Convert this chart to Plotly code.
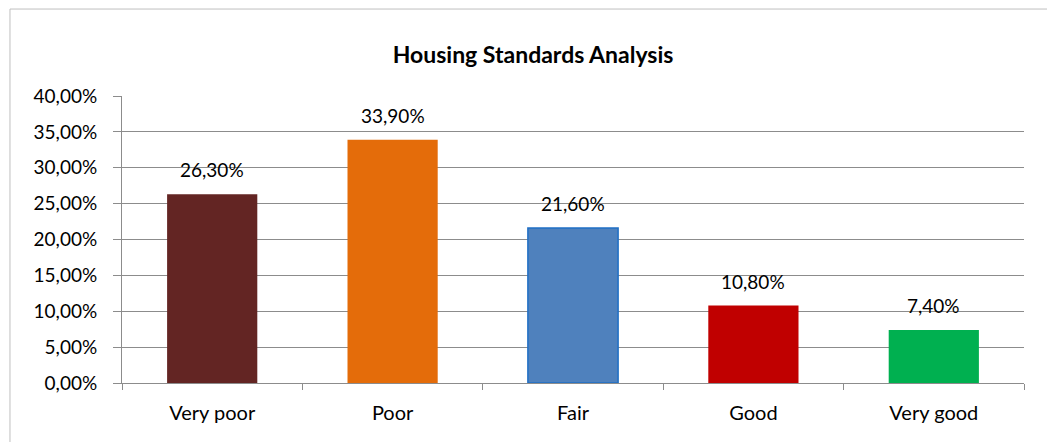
import plotly.graph_objects as go

categories = ["Very poor", "Poor", "Fair", "Good", "Very good"]
values = [0.263, 0.339, 0.216, 0.108, 0.074]
colors = ["#632523", "#E46C0A", "#4F81BD", "#C00000", "#00B050"]
line_colors = ["#632523", "#E46C0A", "#1F6FC5", "#C00000", "#00B050"]
title = "Housing Standards Analysis"

FONT = "Lato, 'Liberation Sans', sans-serif"

fig = go.Figure()
fig.add_trace(go.Bar(
    x=categories, y=values,
    marker=dict(color=colors, line=dict(color=line_colors, width=[0, 0, 1.5, 0, 0])),
    hoverinfo="skip",
))

def fmt(v):
    return f"{v*100:.2f}%".replace(".", ",")

for c, v in zip(categories, values):
    fig.add_annotation(x=c, y=v, text=fmt(v), showarrow=False, yanchor="bottom",
                       yshift=11, font=dict(family=FONT, size=19, color="#000000"))

fig.add_shape(type="rect", xref="paper", yref="paper",
              x0=-0.1242, x1=1.05, y0=-0.25, y1=1.303,
              line=dict(color="#BFBFBF", width=1), fillcolor="rgba(0,0,0,0)", layer="below")

W, H = 1047, 434
fig.update_layout(
    width=W, height=H,
    margin=dict(l=114, r=31, t=88, b=59, autoexpand=False),
    paper_bgcolor="white", plot_bgcolor="white",
    separators=", ",
    bargap=0.5,
    showlegend=False,
    title=dict(text="<b>" + title + "</b>", x=525 / W, xanchor="center",
               y=1 - 47 / H, yanchor="middle",
               font=dict(family=FONT, size=23, color="#000000")),
    font=dict(family=FONT, size=19, color="#000000"),
)
fig.update_yaxes(range=[0, 0.4], dtick=0.05, tickformat=".2%",
                 showgrid=True, gridcolor="#8C8C8C", gridwidth=1,
                 showline=True, linecolor="#8C8C8C", linewidth=1,
                 ticks="outside", ticklen=8, tickcolor="#8C8C8C",
                 ticklabelstandoff=12, automargin=False,
                 zeroline=False, fixedrange=True)
fig.update_xaxes(showline=True, linecolor="#8C8C8C", linewidth=1,
                 ticks="outside", ticklen=6, tickcolor="#8C8C8C",
                 ticklabelstandoff=12, automargin=False,
                 tickfont=dict(family=FONT, size=20),
                 tickson="boundaries", showgrid=False, fixedrange=True)

fig.write_html("out.html")
